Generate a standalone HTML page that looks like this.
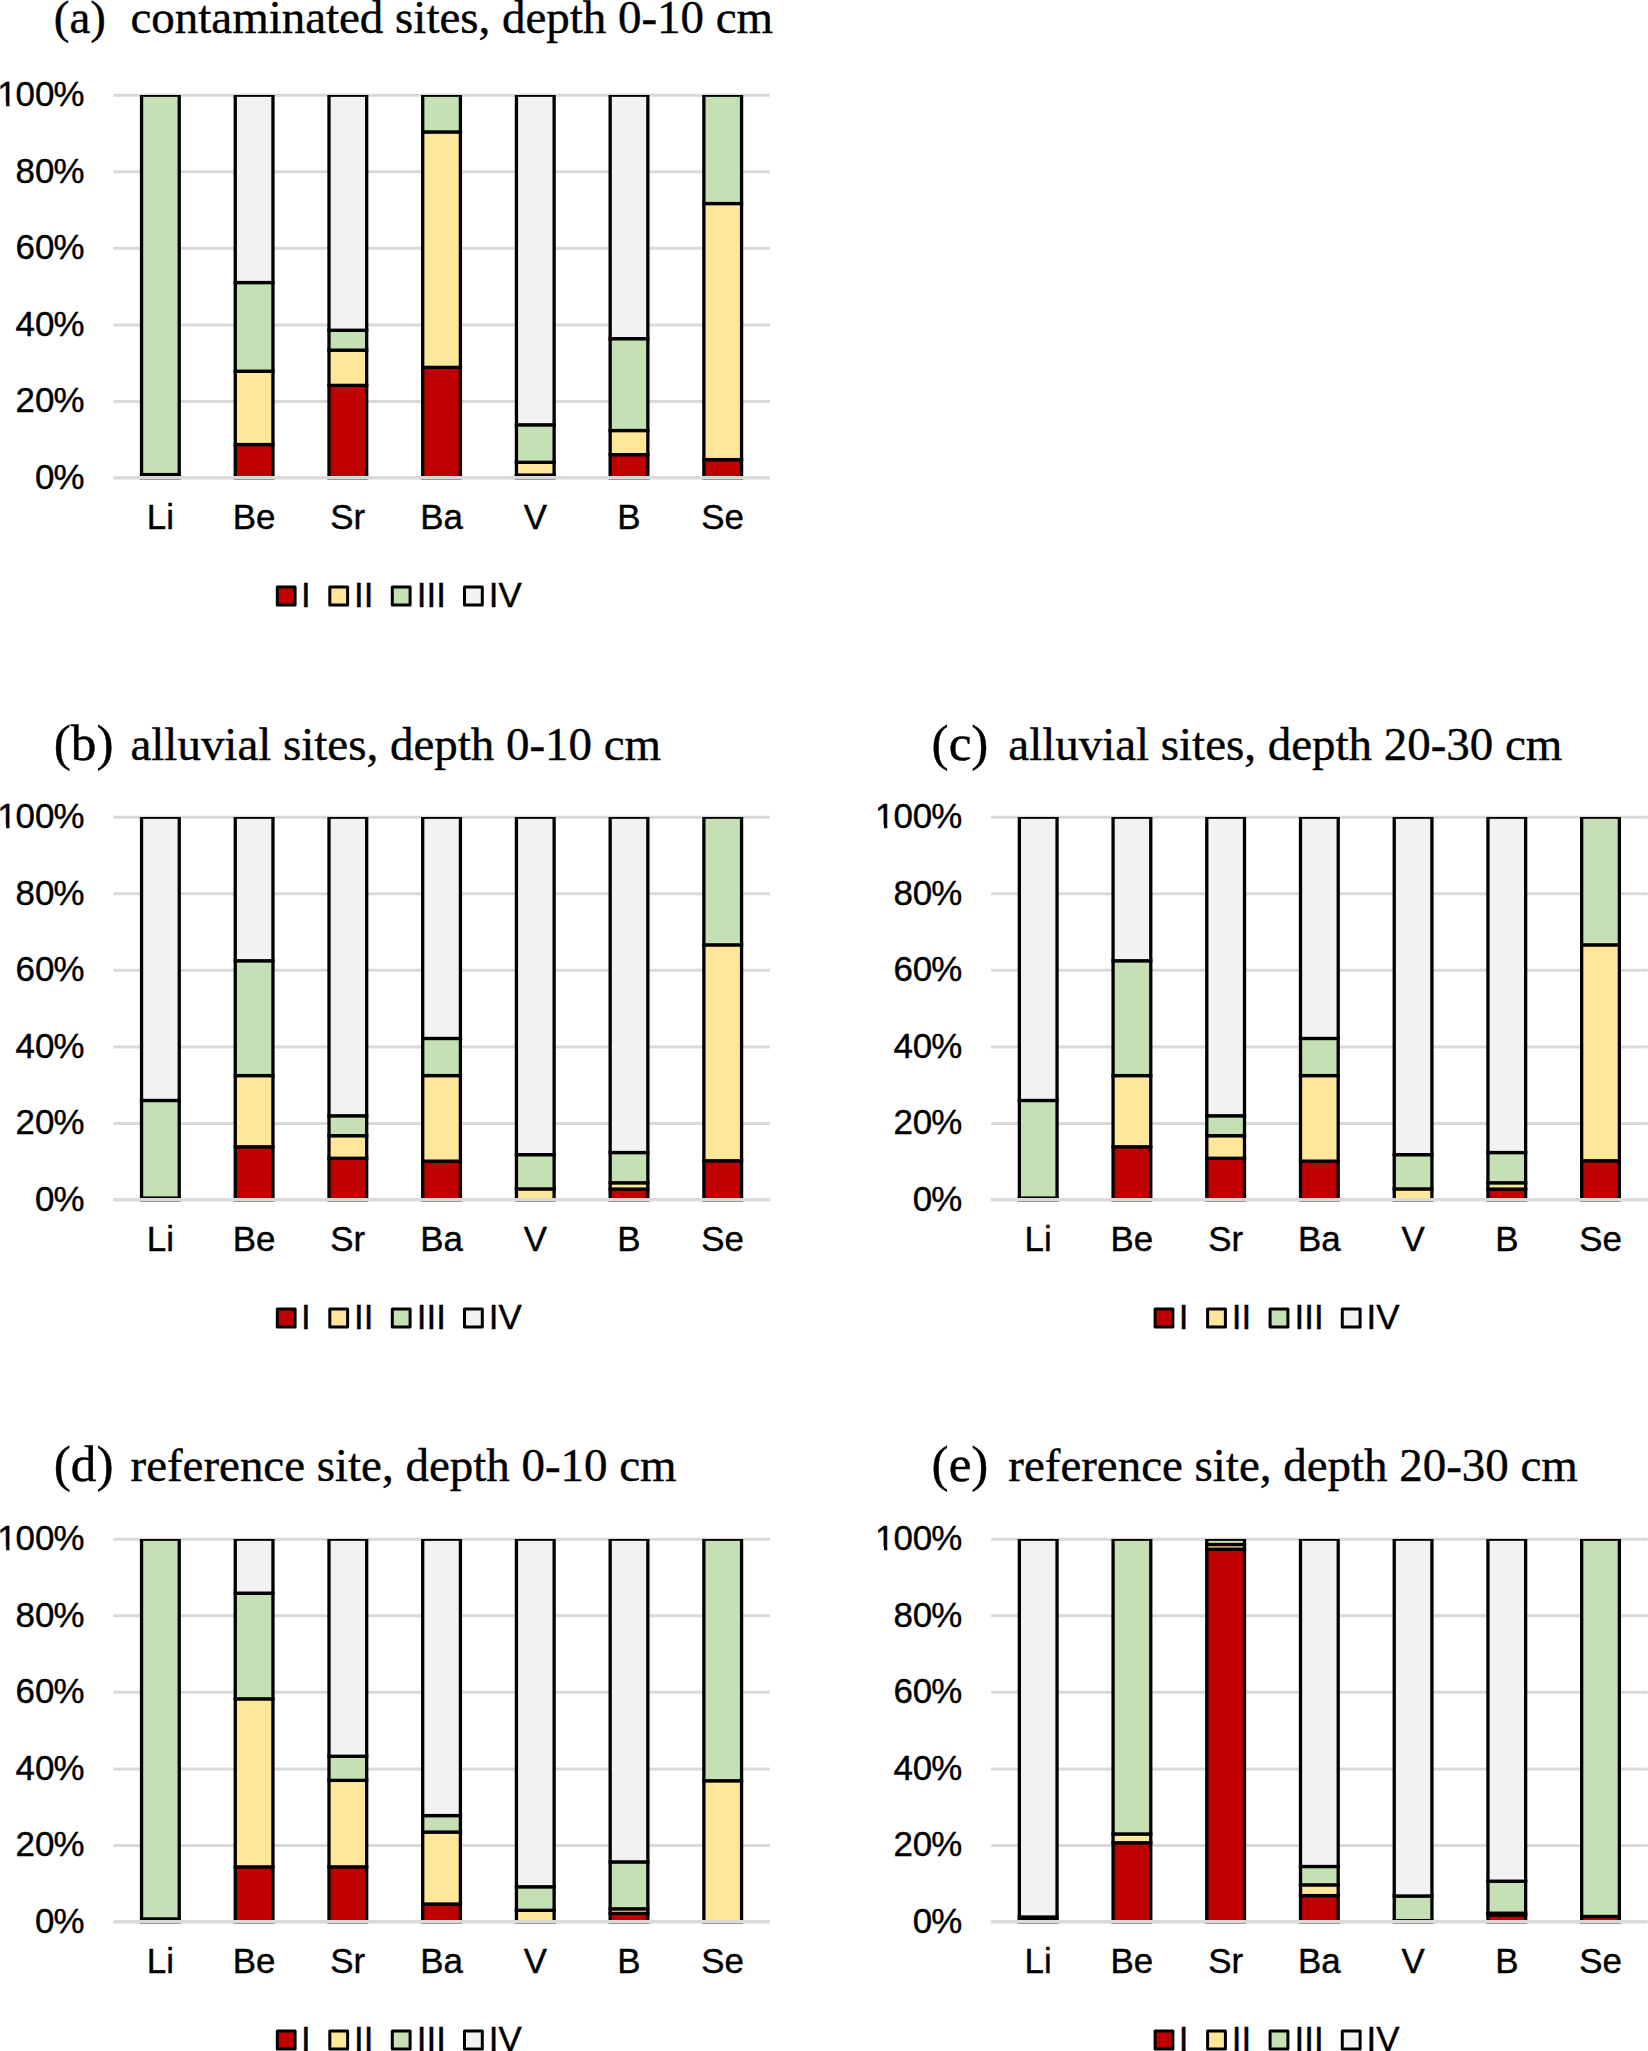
<!DOCTYPE html>
<html><head><meta charset="utf-8"><title>Fractionation charts</title>
<style>
html,body{margin:0;padding:0;background:#fff}
svg{display:block}
.s{font-family:"Liberation Sans",Arial,sans-serif;font-size:34.9px;fill:#000;stroke:#000;stroke-width:0.4px}
.l{font-family:"Liberation Serif","Times New Roman",serif;font-size:51.2px;fill:#000;stroke:#000;stroke-width:0.4px}
.t{font-family:"Liberation Serif","Times New Roman",serif;font-size:46.95px;fill:#000;stroke:#000;stroke-width:0.4px}
</style></head><body>
<svg width="1648" height="2051" viewBox="0 0 1648 2051">
<defs><clipPath id="one"><path clip-rule="evenodd" d="M-20,60 H120 V120 H-20 Z M-5,102.6 H6.2 V110 H-5 Z M9.5,102.6 H16.5 V110 H9.5 Z"/></clipPath><clipPath id="plot"><rect x="0" y="95" width="900" height="386"/></clipPath></defs>
<rect width="1648" height="2051" fill="#fff"/>
<g transform="translate(0,0)">
<line x1="113.34" x2="769.88" y1="401.44" y2="401.44" stroke="#D9D9D9" stroke-width="3"/>
<line x1="113.34" x2="769.88" y1="324.88" y2="324.88" stroke="#D9D9D9" stroke-width="3"/>
<line x1="113.34" x2="769.88" y1="248.32" y2="248.32" stroke="#D9D9D9" stroke-width="3"/>
<line x1="113.34" x2="769.88" y1="171.76" y2="171.76" stroke="#D9D9D9" stroke-width="3"/>
<line x1="113.34" x2="769.88" y1="95.20" y2="95.20" stroke="#D9D9D9" stroke-width="3"/>
<text class="s" x="34.99 53.50" y="489.0">0%</text>
<text class="s" x="15.58 34.99 53.50" y="412.4">20%</text>
<text class="s" x="15.58 34.99 53.50" y="335.9">40%</text>
<text class="s" x="15.58 34.99 53.50" y="259.3">60%</text>
<text class="s" x="15.58 34.99 53.50" y="182.8">80%</text>
<text class="s" clip-path="url(#one)" x="-2.83 15.58 34.99 53.50" y="106.2">100%</text>
<g clip-path="url(#plot)">
<rect x="141.55" y="474.55" width="37.7" height="3.45" fill="#FFE699" stroke="#000" stroke-width="3.3"/>
<rect x="141.55" y="95.20" width="37.7" height="379.35" fill="#C5E0B4" stroke="#000" stroke-width="3.3"/>
<rect x="235.27" y="444.54" width="37.7" height="33.46" fill="#C00000" stroke="#000" stroke-width="3.3"/>
<rect x="235.27" y="371.20" width="37.7" height="73.34" fill="#FFE699" stroke="#000" stroke-width="3.3"/>
<rect x="235.27" y="282.54" width="37.7" height="88.66" fill="#C5E0B4" stroke="#000" stroke-width="3.3"/>
<rect x="235.27" y="95.20" width="37.7" height="187.34" fill="#F2F2F2" stroke="#000" stroke-width="3.3"/>
<rect x="328.99" y="385.36" width="37.7" height="92.64" fill="#C00000" stroke="#000" stroke-width="3.3"/>
<rect x="328.99" y="350.14" width="37.7" height="35.22" fill="#FFE699" stroke="#000" stroke-width="3.3"/>
<rect x="328.99" y="330.24" width="37.7" height="19.91" fill="#C5E0B4" stroke="#000" stroke-width="3.3"/>
<rect x="328.99" y="95.20" width="37.7" height="235.04" fill="#F2F2F2" stroke="#000" stroke-width="3.3"/>
<rect x="422.71" y="367.37" width="37.7" height="110.63" fill="#C00000" stroke="#000" stroke-width="3.3"/>
<rect x="422.71" y="131.95" width="37.7" height="235.42" fill="#FFE699" stroke="#000" stroke-width="3.3"/>
<rect x="422.71" y="95.20" width="37.7" height="36.75" fill="#C5E0B4" stroke="#000" stroke-width="3.3"/>
<rect x="516.43" y="475.13" width="37.7" height="2.87" fill="#C00000" stroke="#000" stroke-width="3.3"/>
<rect x="516.43" y="462.31" width="37.7" height="12.82" fill="#FFE699" stroke="#000" stroke-width="3.3"/>
<rect x="516.43" y="424.79" width="37.7" height="37.51" fill="#C5E0B4" stroke="#000" stroke-width="3.3"/>
<rect x="516.43" y="95.20" width="37.7" height="329.59" fill="#F2F2F2" stroke="#000" stroke-width="3.3"/>
<rect x="610.15" y="454.65" width="37.7" height="23.35" fill="#C00000" stroke="#000" stroke-width="3.3"/>
<rect x="610.15" y="430.53" width="37.7" height="24.12" fill="#FFE699" stroke="#000" stroke-width="3.3"/>
<rect x="610.15" y="338.66" width="37.7" height="91.87" fill="#C5E0B4" stroke="#000" stroke-width="3.3"/>
<rect x="610.15" y="95.20" width="37.7" height="243.46" fill="#F2F2F2" stroke="#000" stroke-width="3.3"/>
<rect x="703.87" y="459.63" width="37.7" height="18.37" fill="#C00000" stroke="#000" stroke-width="3.3"/>
<rect x="703.87" y="203.53" width="37.7" height="256.09" fill="#FFE699" stroke="#000" stroke-width="3.3"/>
<rect x="703.87" y="95.20" width="37.7" height="108.33" fill="#C5E0B4" stroke="#000" stroke-width="3.3"/>
</g>
<line x1="113.34" x2="769.88" y1="477.70" y2="477.70" stroke="#D9D9D9" stroke-width="3.4"/>
<text class="s" text-anchor="middle" x="160.4" y="529.1">Li</text>
<text class="s" text-anchor="middle" x="254.1" y="529.1">Be</text>
<text class="s" text-anchor="middle" x="347.8" y="529.1">Sr</text>
<text class="s" text-anchor="middle" x="441.6" y="529.1">Ba</text>
<text class="s" text-anchor="middle" x="535.3" y="529.1">V</text>
<text class="s" text-anchor="middle" x="629.0" y="529.1">B</text>
<text class="s" text-anchor="middle" x="722.7" y="529.1">Se</text>
<rect x="277.3" y="587.1" width="17.8" height="17.9" fill="#C00000" stroke="#000" stroke-width="3" stroke-linejoin="round"/>
<text class="s" x="301.0" y="606.5">I</text>
<rect x="329.8" y="587.1" width="17.8" height="17.9" fill="#FFE699" stroke="#000" stroke-width="3" stroke-linejoin="round"/>
<text class="s" x="354.0" y="606.5">II</text>
<rect x="392.3" y="587.1" width="17.8" height="17.9" fill="#C5E0B4" stroke="#000" stroke-width="3" stroke-linejoin="round"/>
<text class="s" x="416.8" y="606.5">III</text>
<rect x="464.5" y="587.1" width="17.8" height="17.9" fill="#F2F2F2" stroke="#000" stroke-width="3" stroke-linejoin="round"/>
<text class="s" x="488.7" y="606.5">IV</text>
</g>
<text class="t" x="53.8" y="32.8">(a)</text>
<text class="t" x="130.5" y="32.8">contaminated sites, depth 0-10 cm</text>
<g transform="translate(0,722)">
<line x1="113.34" x2="769.88" y1="401.44" y2="401.44" stroke="#D9D9D9" stroke-width="3"/>
<line x1="113.34" x2="769.88" y1="324.88" y2="324.88" stroke="#D9D9D9" stroke-width="3"/>
<line x1="113.34" x2="769.88" y1="248.32" y2="248.32" stroke="#D9D9D9" stroke-width="3"/>
<line x1="113.34" x2="769.88" y1="171.76" y2="171.76" stroke="#D9D9D9" stroke-width="3"/>
<line x1="113.34" x2="769.88" y1="95.20" y2="95.20" stroke="#D9D9D9" stroke-width="3"/>
<text class="s" x="34.99 53.50" y="489.0">0%</text>
<text class="s" x="15.58 34.99 53.50" y="412.4">20%</text>
<text class="s" x="15.58 34.99 53.50" y="335.9">40%</text>
<text class="s" x="15.58 34.99 53.50" y="259.3">60%</text>
<text class="s" x="15.58 34.99 53.50" y="182.8">80%</text>
<text class="s" clip-path="url(#one)" x="-2.83 15.58 34.99 53.50" y="106.2">100%</text>
<g clip-path="url(#plot)">
<rect x="141.55" y="476.09" width="37.7" height="1.91" fill="#FFE699" stroke="#000" stroke-width="3.3"/>
<rect x="141.55" y="378.47" width="37.7" height="97.61" fill="#C5E0B4" stroke="#000" stroke-width="3.3"/>
<rect x="141.55" y="95.20" width="37.7" height="283.27" fill="#F2F2F2" stroke="#000" stroke-width="3.3"/>
<rect x="235.27" y="424.79" width="37.7" height="53.21" fill="#C00000" stroke="#000" stroke-width="3.3"/>
<rect x="235.27" y="353.59" width="37.7" height="71.20" fill="#FFE699" stroke="#000" stroke-width="3.3"/>
<rect x="235.27" y="238.75" width="37.7" height="114.84" fill="#C5E0B4" stroke="#000" stroke-width="3.3"/>
<rect x="235.27" y="95.20" width="37.7" height="143.55" fill="#F2F2F2" stroke="#000" stroke-width="3.3"/>
<rect x="328.99" y="436.27" width="37.7" height="41.73" fill="#C00000" stroke="#000" stroke-width="3.3"/>
<rect x="328.99" y="413.69" width="37.7" height="22.59" fill="#FFE699" stroke="#000" stroke-width="3.3"/>
<rect x="328.99" y="393.78" width="37.7" height="19.91" fill="#C5E0B4" stroke="#000" stroke-width="3.3"/>
<rect x="328.99" y="95.20" width="37.7" height="298.58" fill="#F2F2F2" stroke="#000" stroke-width="3.3"/>
<rect x="422.71" y="439.15" width="37.7" height="38.85" fill="#C00000" stroke="#000" stroke-width="3.3"/>
<rect x="422.71" y="353.59" width="37.7" height="85.56" fill="#FFE699" stroke="#000" stroke-width="3.3"/>
<rect x="422.71" y="316.46" width="37.7" height="37.13" fill="#C5E0B4" stroke="#000" stroke-width="3.3"/>
<rect x="422.71" y="95.20" width="37.7" height="221.26" fill="#F2F2F2" stroke="#000" stroke-width="3.3"/>
<rect x="516.43" y="466.90" width="37.7" height="11.10" fill="#FFE699" stroke="#000" stroke-width="3.3"/>
<rect x="516.43" y="432.64" width="37.7" height="34.26" fill="#C5E0B4" stroke="#000" stroke-width="3.3"/>
<rect x="516.43" y="95.20" width="37.7" height="337.44" fill="#F2F2F2" stroke="#000" stroke-width="3.3"/>
<rect x="610.15" y="467.09" width="37.7" height="10.91" fill="#C00000" stroke="#000" stroke-width="3.3"/>
<rect x="610.15" y="460.77" width="37.7" height="6.32" fill="#FFE699" stroke="#000" stroke-width="3.3"/>
<rect x="610.15" y="430.53" width="37.7" height="30.24" fill="#C5E0B4" stroke="#000" stroke-width="3.3"/>
<rect x="610.15" y="95.20" width="37.7" height="335.33" fill="#F2F2F2" stroke="#000" stroke-width="3.3"/>
<rect x="703.87" y="438.76" width="37.7" height="39.24" fill="#C00000" stroke="#000" stroke-width="3.3"/>
<rect x="703.87" y="222.86" width="37.7" height="215.90" fill="#FFE699" stroke="#000" stroke-width="3.3"/>
<rect x="703.87" y="95.20" width="37.7" height="127.66" fill="#C5E0B4" stroke="#000" stroke-width="3.3"/>
</g>
<line x1="113.34" x2="769.88" y1="477.70" y2="477.70" stroke="#D9D9D9" stroke-width="3.4"/>
<text class="s" text-anchor="middle" x="160.4" y="529.1">Li</text>
<text class="s" text-anchor="middle" x="254.1" y="529.1">Be</text>
<text class="s" text-anchor="middle" x="347.8" y="529.1">Sr</text>
<text class="s" text-anchor="middle" x="441.6" y="529.1">Ba</text>
<text class="s" text-anchor="middle" x="535.3" y="529.1">V</text>
<text class="s" text-anchor="middle" x="629.0" y="529.1">B</text>
<text class="s" text-anchor="middle" x="722.7" y="529.1">Se</text>
<rect x="277.3" y="587.1" width="17.8" height="17.9" fill="#C00000" stroke="#000" stroke-width="3" stroke-linejoin="round"/>
<text class="s" x="301.0" y="606.5">I</text>
<rect x="329.8" y="587.1" width="17.8" height="17.9" fill="#FFE699" stroke="#000" stroke-width="3" stroke-linejoin="round"/>
<text class="s" x="354.0" y="606.5">II</text>
<rect x="392.3" y="587.1" width="17.8" height="17.9" fill="#C5E0B4" stroke="#000" stroke-width="3" stroke-linejoin="round"/>
<text class="s" x="416.8" y="606.5">III</text>
<rect x="464.5" y="587.1" width="17.8" height="17.9" fill="#F2F2F2" stroke="#000" stroke-width="3" stroke-linejoin="round"/>
<text class="s" x="488.7" y="606.5">IV</text>
</g>
<text class="l" x="53.8" y="759.6">(b)</text>
<text class="t" x="130.5" y="759.6">alluvial sites, depth 0-10 cm</text>
<g transform="translate(877.8,722)">
<line x1="113.34" x2="769.88" y1="401.44" y2="401.44" stroke="#D9D9D9" stroke-width="3"/>
<line x1="113.34" x2="769.88" y1="324.88" y2="324.88" stroke="#D9D9D9" stroke-width="3"/>
<line x1="113.34" x2="769.88" y1="248.32" y2="248.32" stroke="#D9D9D9" stroke-width="3"/>
<line x1="113.34" x2="769.88" y1="171.76" y2="171.76" stroke="#D9D9D9" stroke-width="3"/>
<line x1="113.34" x2="769.88" y1="95.20" y2="95.20" stroke="#D9D9D9" stroke-width="3"/>
<text class="s" x="34.99 53.50" y="489.0">0%</text>
<text class="s" x="15.58 34.99 53.50" y="412.4">20%</text>
<text class="s" x="15.58 34.99 53.50" y="335.9">40%</text>
<text class="s" x="15.58 34.99 53.50" y="259.3">60%</text>
<text class="s" x="15.58 34.99 53.50" y="182.8">80%</text>
<text class="s" clip-path="url(#one)" x="-2.83 15.58 34.99 53.50" y="106.2">100%</text>
<g clip-path="url(#plot)">
<rect x="141.55" y="476.09" width="37.7" height="1.91" fill="#FFE699" stroke="#000" stroke-width="3.3"/>
<rect x="141.55" y="378.47" width="37.7" height="97.61" fill="#C5E0B4" stroke="#000" stroke-width="3.3"/>
<rect x="141.55" y="95.20" width="37.7" height="283.27" fill="#F2F2F2" stroke="#000" stroke-width="3.3"/>
<rect x="235.27" y="424.79" width="37.7" height="53.21" fill="#C00000" stroke="#000" stroke-width="3.3"/>
<rect x="235.27" y="353.59" width="37.7" height="71.20" fill="#FFE699" stroke="#000" stroke-width="3.3"/>
<rect x="235.27" y="238.75" width="37.7" height="114.84" fill="#C5E0B4" stroke="#000" stroke-width="3.3"/>
<rect x="235.27" y="95.20" width="37.7" height="143.55" fill="#F2F2F2" stroke="#000" stroke-width="3.3"/>
<rect x="328.99" y="436.27" width="37.7" height="41.73" fill="#C00000" stroke="#000" stroke-width="3.3"/>
<rect x="328.99" y="413.69" width="37.7" height="22.59" fill="#FFE699" stroke="#000" stroke-width="3.3"/>
<rect x="328.99" y="393.78" width="37.7" height="19.91" fill="#C5E0B4" stroke="#000" stroke-width="3.3"/>
<rect x="328.99" y="95.20" width="37.7" height="298.58" fill="#F2F2F2" stroke="#000" stroke-width="3.3"/>
<rect x="422.71" y="439.15" width="37.7" height="38.85" fill="#C00000" stroke="#000" stroke-width="3.3"/>
<rect x="422.71" y="353.59" width="37.7" height="85.56" fill="#FFE699" stroke="#000" stroke-width="3.3"/>
<rect x="422.71" y="316.46" width="37.7" height="37.13" fill="#C5E0B4" stroke="#000" stroke-width="3.3"/>
<rect x="422.71" y="95.20" width="37.7" height="221.26" fill="#F2F2F2" stroke="#000" stroke-width="3.3"/>
<rect x="516.43" y="466.90" width="37.7" height="11.10" fill="#FFE699" stroke="#000" stroke-width="3.3"/>
<rect x="516.43" y="432.64" width="37.7" height="34.26" fill="#C5E0B4" stroke="#000" stroke-width="3.3"/>
<rect x="516.43" y="95.20" width="37.7" height="337.44" fill="#F2F2F2" stroke="#000" stroke-width="3.3"/>
<rect x="610.15" y="467.09" width="37.7" height="10.91" fill="#C00000" stroke="#000" stroke-width="3.3"/>
<rect x="610.15" y="460.77" width="37.7" height="6.32" fill="#FFE699" stroke="#000" stroke-width="3.3"/>
<rect x="610.15" y="430.53" width="37.7" height="30.24" fill="#C5E0B4" stroke="#000" stroke-width="3.3"/>
<rect x="610.15" y="95.20" width="37.7" height="335.33" fill="#F2F2F2" stroke="#000" stroke-width="3.3"/>
<rect x="703.87" y="438.76" width="37.7" height="39.24" fill="#C00000" stroke="#000" stroke-width="3.3"/>
<rect x="703.87" y="222.86" width="37.7" height="215.90" fill="#FFE699" stroke="#000" stroke-width="3.3"/>
<rect x="703.87" y="95.20" width="37.7" height="127.66" fill="#C5E0B4" stroke="#000" stroke-width="3.3"/>
</g>
<line x1="113.34" x2="769.88" y1="477.70" y2="477.70" stroke="#D9D9D9" stroke-width="3.4"/>
<text class="s" text-anchor="middle" x="160.4" y="529.1">Li</text>
<text class="s" text-anchor="middle" x="254.1" y="529.1">Be</text>
<text class="s" text-anchor="middle" x="347.8" y="529.1">Sr</text>
<text class="s" text-anchor="middle" x="441.6" y="529.1">Ba</text>
<text class="s" text-anchor="middle" x="535.3" y="529.1">V</text>
<text class="s" text-anchor="middle" x="629.0" y="529.1">B</text>
<text class="s" text-anchor="middle" x="722.7" y="529.1">Se</text>
<rect x="277.3" y="587.1" width="17.8" height="17.9" fill="#C00000" stroke="#000" stroke-width="3" stroke-linejoin="round"/>
<text class="s" x="301.0" y="606.5">I</text>
<rect x="329.8" y="587.1" width="17.8" height="17.9" fill="#FFE699" stroke="#000" stroke-width="3" stroke-linejoin="round"/>
<text class="s" x="354.0" y="606.5">II</text>
<rect x="392.3" y="587.1" width="17.8" height="17.9" fill="#C5E0B4" stroke="#000" stroke-width="3" stroke-linejoin="round"/>
<text class="s" x="416.8" y="606.5">III</text>
<rect x="464.5" y="587.1" width="17.8" height="17.9" fill="#F2F2F2" stroke="#000" stroke-width="3" stroke-linejoin="round"/>
<text class="s" x="488.7" y="606.5">IV</text>
</g>
<text class="l" x="931.6" y="759.6">(c)</text>
<text class="t" x="1008.3" y="759.6">alluvial sites, depth 20-30 cm</text>
<g transform="translate(0,1444)">
<line x1="113.34" x2="769.88" y1="401.44" y2="401.44" stroke="#D9D9D9" stroke-width="3"/>
<line x1="113.34" x2="769.88" y1="324.88" y2="324.88" stroke="#D9D9D9" stroke-width="3"/>
<line x1="113.34" x2="769.88" y1="248.32" y2="248.32" stroke="#D9D9D9" stroke-width="3"/>
<line x1="113.34" x2="769.88" y1="171.76" y2="171.76" stroke="#D9D9D9" stroke-width="3"/>
<line x1="113.34" x2="769.88" y1="95.20" y2="95.20" stroke="#D9D9D9" stroke-width="3"/>
<text class="s" x="34.99 53.50" y="489.0">0%</text>
<text class="s" x="15.58 34.99 53.50" y="412.4">20%</text>
<text class="s" x="15.58 34.99 53.50" y="335.9">40%</text>
<text class="s" x="15.58 34.99 53.50" y="259.3">60%</text>
<text class="s" x="15.58 34.99 53.50" y="182.8">80%</text>
<text class="s" clip-path="url(#one)" x="-2.83 15.58 34.99 53.50" y="106.2">100%</text>
<g clip-path="url(#plot)">
<rect x="141.55" y="474.94" width="37.7" height="3.06" fill="#FFE699" stroke="#000" stroke-width="3.3"/>
<rect x="141.55" y="95.20" width="37.7" height="379.74" fill="#C5E0B4" stroke="#000" stroke-width="3.3"/>
<rect x="235.27" y="422.88" width="37.7" height="55.12" fill="#C00000" stroke="#000" stroke-width="3.3"/>
<rect x="235.27" y="254.83" width="37.7" height="168.05" fill="#FFE699" stroke="#000" stroke-width="3.3"/>
<rect x="235.27" y="149.17" width="37.7" height="105.65" fill="#C5E0B4" stroke="#000" stroke-width="3.3"/>
<rect x="235.27" y="95.20" width="37.7" height="53.97" fill="#F2F2F2" stroke="#000" stroke-width="3.3"/>
<rect x="328.99" y="422.88" width="37.7" height="55.12" fill="#C00000" stroke="#000" stroke-width="3.3"/>
<rect x="328.99" y="336.36" width="37.7" height="86.51" fill="#FFE699" stroke="#000" stroke-width="3.3"/>
<rect x="328.99" y="312.25" width="37.7" height="24.12" fill="#C5E0B4" stroke="#000" stroke-width="3.3"/>
<rect x="328.99" y="95.20" width="37.7" height="217.05" fill="#F2F2F2" stroke="#000" stroke-width="3.3"/>
<rect x="422.71" y="460.01" width="37.7" height="17.99" fill="#C00000" stroke="#000" stroke-width="3.3"/>
<rect x="422.71" y="388.04" width="37.7" height="71.97" fill="#FFE699" stroke="#000" stroke-width="3.3"/>
<rect x="422.71" y="371.58" width="37.7" height="16.46" fill="#C5E0B4" stroke="#000" stroke-width="3.3"/>
<rect x="422.71" y="95.20" width="37.7" height="276.38" fill="#F2F2F2" stroke="#000" stroke-width="3.3"/>
<rect x="516.43" y="466.32" width="37.7" height="11.68" fill="#FFE699" stroke="#000" stroke-width="3.3"/>
<rect x="516.43" y="442.78" width="37.7" height="23.54" fill="#C5E0B4" stroke="#000" stroke-width="3.3"/>
<rect x="516.43" y="95.20" width="37.7" height="347.58" fill="#F2F2F2" stroke="#000" stroke-width="3.3"/>
<rect x="610.15" y="469.39" width="37.7" height="8.61" fill="#C00000" stroke="#000" stroke-width="3.3"/>
<rect x="610.15" y="464.79" width="37.7" height="4.59" fill="#FFE699" stroke="#000" stroke-width="3.3"/>
<rect x="610.15" y="417.90" width="37.7" height="46.89" fill="#C5E0B4" stroke="#000" stroke-width="3.3"/>
<rect x="610.15" y="95.20" width="37.7" height="322.70" fill="#F2F2F2" stroke="#000" stroke-width="3.3"/>
<rect x="703.87" y="336.75" width="37.7" height="141.25" fill="#FFE699" stroke="#000" stroke-width="3.3"/>
<rect x="703.87" y="95.20" width="37.7" height="241.55" fill="#C5E0B4" stroke="#000" stroke-width="3.3"/>
</g>
<line x1="113.34" x2="769.88" y1="477.70" y2="477.70" stroke="#D9D9D9" stroke-width="3.4"/>
<text class="s" text-anchor="middle" x="160.4" y="529.1">Li</text>
<text class="s" text-anchor="middle" x="254.1" y="529.1">Be</text>
<text class="s" text-anchor="middle" x="347.8" y="529.1">Sr</text>
<text class="s" text-anchor="middle" x="441.6" y="529.1">Ba</text>
<text class="s" text-anchor="middle" x="535.3" y="529.1">V</text>
<text class="s" text-anchor="middle" x="629.0" y="529.1">B</text>
<text class="s" text-anchor="middle" x="722.7" y="529.1">Se</text>
<rect x="277.3" y="587.1" width="17.8" height="17.9" fill="#C00000" stroke="#000" stroke-width="3" stroke-linejoin="round"/>
<text class="s" x="301.0" y="606.5">I</text>
<rect x="329.8" y="587.1" width="17.8" height="17.9" fill="#FFE699" stroke="#000" stroke-width="3" stroke-linejoin="round"/>
<text class="s" x="354.0" y="606.5">II</text>
<rect x="392.3" y="587.1" width="17.8" height="17.9" fill="#C5E0B4" stroke="#000" stroke-width="3" stroke-linejoin="round"/>
<text class="s" x="416.8" y="606.5">III</text>
<rect x="464.5" y="587.1" width="17.8" height="17.9" fill="#F2F2F2" stroke="#000" stroke-width="3" stroke-linejoin="round"/>
<text class="s" x="488.7" y="606.5">IV</text>
</g>
<text class="l" x="53.8" y="1481.4">(d)</text>
<text class="t" x="130.5" y="1481.4">reference site, depth 0-10 cm</text>
<g transform="translate(877.8,1444)">
<line x1="113.34" x2="769.88" y1="401.44" y2="401.44" stroke="#D9D9D9" stroke-width="3"/>
<line x1="113.34" x2="769.88" y1="324.88" y2="324.88" stroke="#D9D9D9" stroke-width="3"/>
<line x1="113.34" x2="769.88" y1="248.32" y2="248.32" stroke="#D9D9D9" stroke-width="3"/>
<line x1="113.34" x2="769.88" y1="171.76" y2="171.76" stroke="#D9D9D9" stroke-width="3"/>
<line x1="113.34" x2="769.88" y1="95.20" y2="95.20" stroke="#D9D9D9" stroke-width="3"/>
<text class="s" x="34.99 53.50" y="489.0">0%</text>
<text class="s" x="15.58 34.99 53.50" y="412.4">20%</text>
<text class="s" x="15.58 34.99 53.50" y="335.9">40%</text>
<text class="s" x="15.58 34.99 53.50" y="259.3">60%</text>
<text class="s" x="15.58 34.99 53.50" y="182.8">80%</text>
<text class="s" clip-path="url(#one)" x="-2.83 15.58 34.99 53.50" y="106.2">100%</text>
<g clip-path="url(#plot)">
<rect x="141.55" y="476.28" width="37.7" height="1.72" fill="#FFE699" stroke="#000" stroke-width="3.3"/>
<rect x="141.55" y="473.02" width="37.7" height="3.25" fill="#C5E0B4" stroke="#000" stroke-width="3.3"/>
<rect x="141.55" y="95.20" width="37.7" height="377.82" fill="#F2F2F2" stroke="#000" stroke-width="3.3"/>
<rect x="235.27" y="398.76" width="37.7" height="79.24" fill="#C00000" stroke="#000" stroke-width="3.3"/>
<rect x="235.27" y="389.96" width="37.7" height="8.80" fill="#FFE699" stroke="#000" stroke-width="3.3"/>
<rect x="235.27" y="95.20" width="37.7" height="294.76" fill="#C5E0B4" stroke="#000" stroke-width="3.3"/>
<rect x="328.99" y="105.19" width="37.7" height="372.81" fill="#C00000" stroke="#000" stroke-width="3.3"/>
<rect x="328.99" y="100.52" width="37.7" height="4.67" fill="#FFE699" stroke="#000" stroke-width="3.3"/>
<rect x="328.99" y="95.20" width="37.7" height="5.32" fill="#C5E0B4" stroke="#000" stroke-width="3.3"/>
<rect x="422.71" y="451.59" width="37.7" height="26.41" fill="#C00000" stroke="#000" stroke-width="3.3"/>
<rect x="422.71" y="440.87" width="37.7" height="10.72" fill="#FFE699" stroke="#000" stroke-width="3.3"/>
<rect x="422.71" y="422.49" width="37.7" height="18.37" fill="#C5E0B4" stroke="#000" stroke-width="3.3"/>
<rect x="422.71" y="95.20" width="37.7" height="327.29" fill="#F2F2F2" stroke="#000" stroke-width="3.3"/>
<rect x="516.43" y="476.66" width="37.7" height="1.34" fill="#FFE699" stroke="#000" stroke-width="3.3"/>
<rect x="516.43" y="451.97" width="37.7" height="24.69" fill="#C5E0B4" stroke="#000" stroke-width="3.3"/>
<rect x="516.43" y="95.20" width="37.7" height="356.77" fill="#F2F2F2" stroke="#000" stroke-width="3.3"/>
<rect x="610.15" y="470.92" width="37.7" height="7.08" fill="#C00000" stroke="#000" stroke-width="3.3"/>
<rect x="610.15" y="469.20" width="37.7" height="1.72" fill="#FFE699" stroke="#000" stroke-width="3.3"/>
<rect x="610.15" y="437.19" width="37.7" height="32.00" fill="#C5E0B4" stroke="#000" stroke-width="3.3"/>
<rect x="610.15" y="95.20" width="37.7" height="341.99" fill="#F2F2F2" stroke="#000" stroke-width="3.3"/>
<rect x="703.87" y="472.45" width="37.7" height="5.55" fill="#C00000" stroke="#000" stroke-width="3.3"/>
<rect x="703.87" y="95.20" width="37.7" height="377.25" fill="#C5E0B4" stroke="#000" stroke-width="3.3"/>
</g>
<line x1="113.34" x2="769.88" y1="477.70" y2="477.70" stroke="#D9D9D9" stroke-width="3.4"/>
<text class="s" text-anchor="middle" x="160.4" y="529.1">Li</text>
<text class="s" text-anchor="middle" x="254.1" y="529.1">Be</text>
<text class="s" text-anchor="middle" x="347.8" y="529.1">Sr</text>
<text class="s" text-anchor="middle" x="441.6" y="529.1">Ba</text>
<text class="s" text-anchor="middle" x="535.3" y="529.1">V</text>
<text class="s" text-anchor="middle" x="629.0" y="529.1">B</text>
<text class="s" text-anchor="middle" x="722.7" y="529.1">Se</text>
<rect x="277.3" y="587.1" width="17.8" height="17.9" fill="#C00000" stroke="#000" stroke-width="3" stroke-linejoin="round"/>
<text class="s" x="301.0" y="606.5">I</text>
<rect x="329.8" y="587.1" width="17.8" height="17.9" fill="#FFE699" stroke="#000" stroke-width="3" stroke-linejoin="round"/>
<text class="s" x="354.0" y="606.5">II</text>
<rect x="392.3" y="587.1" width="17.8" height="17.9" fill="#C5E0B4" stroke="#000" stroke-width="3" stroke-linejoin="round"/>
<text class="s" x="416.8" y="606.5">III</text>
<rect x="464.5" y="587.1" width="17.8" height="17.9" fill="#F2F2F2" stroke="#000" stroke-width="3" stroke-linejoin="round"/>
<text class="s" x="488.7" y="606.5">IV</text>
</g>
<text class="l" x="931.6" y="1481.4">(e)</text>
<text class="t" x="1008.3" y="1481.4">reference site, depth 20-30 cm</text>
</svg>
</body></html>
